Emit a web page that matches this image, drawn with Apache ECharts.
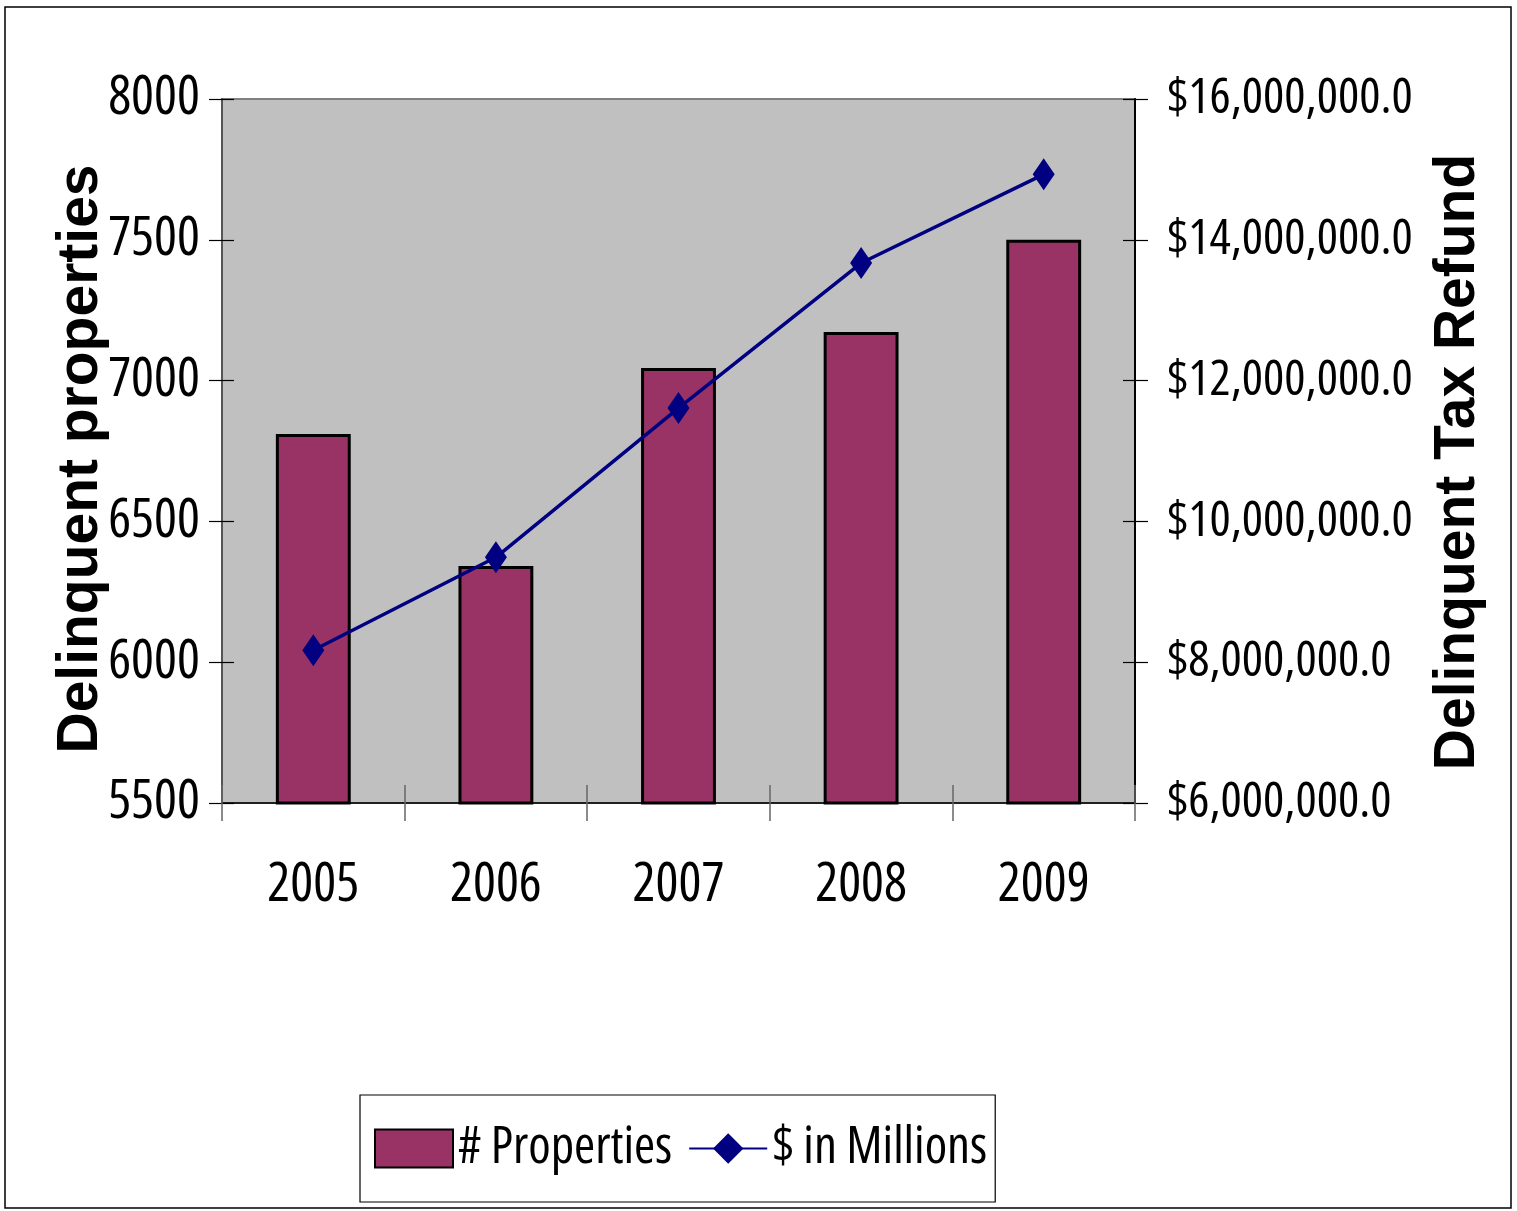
<!DOCTYPE html>
<html><head><meta charset="utf-8">
<script src="https://cdn.jsdelivr.net/npm/echarts@6/dist/echarts.min.js"></script>
<style>html,body{margin:0;padding:0;background:#fff}#c{width:1517px;height:1211px}</style>
</head><body><div id="c"></div>
<script>
const years = ['2005','2006','2007','2008','2009'];
const properties = [6810, 6342, 7045, 7173, 7500];
const dollars = [8170000, 9490000, 11610000, 13670000, 14930000];
const chart = echarts.init(document.getElementById('c'));
const fmtMoney = v => '$' + Math.round(v).toLocaleString('en-US') + '.0';
const BOLD = "'Liberation Sans',Arial,sans-serif";
const COND = "'Open Sans'";
const CW = 'normal condensed';
chart.setOption({
  animation: false,
  backgroundColor: '#fff',
  graphic: [{type:'rect', shape:{x:5,y:7,width:1506,height:1201}, style:{fill:'none', stroke:'#000', lineWidth:1.5}, z:-1}],
  grid: {left:222, right:382, top:99, bottom:408, show:true, backgroundColor:'#C0C0C0', borderColor:'#808080', borderWidth:2, outerBoundsMode:'none', containLabel:false},
  legend: {
    left: 360, top: 1095,
    padding: [28, 8, 28, 14],
    itemGap: 16, itemWidth: 78, itemHeight: 38,
    borderColor: '#000', borderWidth: 1.2,
    textStyle: {fontFamily: COND, fontWeight: CW, fontSize: 51, color:'#000'},
    data: [{name:'# Properties', icon:'rect'}, {name:'$ in Millions'}]
  },
  xAxis: [
    {type:'category', data: years, position:'bottom',
     axisLine:{show:true, lineStyle:{color:'#000', width:1.5}},
     axisTick:{show:true, length:18, lineStyle:{color:'#666', width:1.5}},
     axisLabel:{fontFamily:COND, fontWeight:CW, fontSize:54, color:'#000', margin:56}},
    {type:'category', data: years, position:'bottom', gridIndex:0,
     axisLine:{show:false}, axisTick:{show:true, inside:true, length:18, lineStyle:{color:'#666', width:1.5}},
     axisLabel:{show:false}}
  ],
  yAxis: [
    {type:'value', min:5500, max:8000, interval:500, position:'left',
     name:'Delinquent properties', nameLocation:'middle', nameGap:112, nameRotate:90, nameMoveOverlap:false,
     nameTextStyle:{fontFamily:BOLD, fontWeight:'bold', fontSize:57, color:'#000', padding:[0,16,0,0]},
     axisLine:{show:true, lineStyle:{color:'#555', width:2}},
     axisTick:{show:true, length:13, lineStyle:{color:'#000', width:1.2}},
     axisLabel:{fontFamily:COND, fontWeight:CW, fontSize:54, color:'#000', margin:22, formatter: v => String(v)},
     splitLine:{show:false}},
    {type:'value', min:6000000, max:16000000, interval:2000000, position:'right',
     name:'Delinquent Tax Refund', nameLocation:'middle', nameGap:295, nameRotate:90, nameMoveOverlap:false,
     nameTextStyle:{fontFamily:BOLD, fontWeight:'bold', fontSize:57, color:'#000', padding:[0,22,0,0]},
     axisLine:{show:true, lineStyle:{color:'#000', width:2}},
     axisTick:{show:true, length:13, lineStyle:{color:'#000', width:1.2}},
     axisLabel:{fontFamily:COND, fontWeight:CW, fontSize:50, color:'#000', margin:32, formatter: fmtMoney},
     splitLine:{show:false}},
    {type:'value', min:5500, max:8000, interval:500, position:'left',
     axisLine:{show:false}, axisTick:{show:true, inside:true, length:12, lineStyle:{color:'#000', width:1.2}},
     axisLabel:{show:false}, splitLine:{show:false}},
    {type:'value', min:6000000, max:16000000, interval:2000000, position:'right',
     axisLine:{show:false}, axisTick:{show:true, inside:true, length:12, lineStyle:{color:'#000', width:1.2}},
     axisLabel:{show:false}, splitLine:{show:false}}
  ],
  series: [
    {name:'# Properties', type:'bar', data: properties, yAxisIndex:0, barWidth:'41%',
     itemStyle:{color:'#993366', borderColor:'#000', borderWidth:3}},
    {name:'$ in Millions', type:'line', data: dollars, yAxisIndex:1,
     lineStyle:{color:'#000080', width:3.5}, itemStyle:{color:'#000080'},
     symbol:'diamond', symbolSize:[22,32], z:5}
  ]
});
</script></body></html>
